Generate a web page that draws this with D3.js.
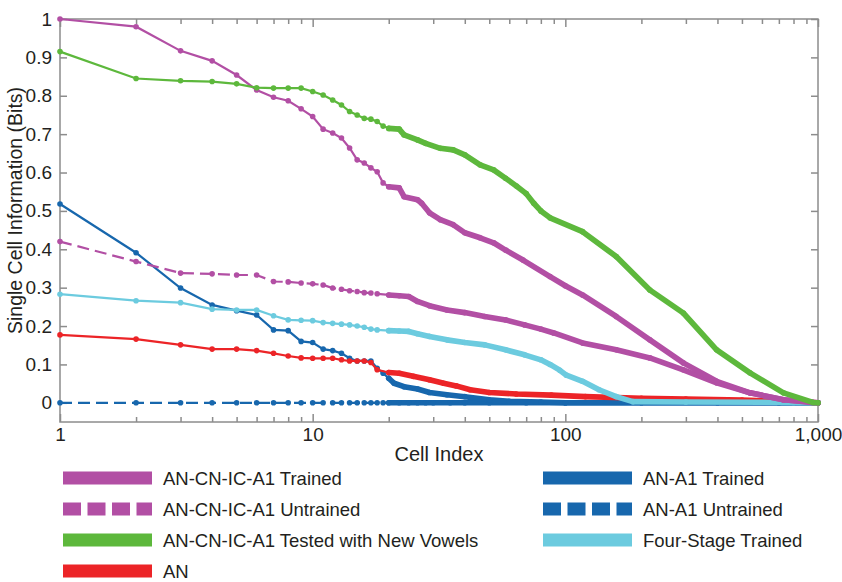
<!DOCTYPE html>
<html>
<head>
<meta charset="utf-8">
<script src="https://cdn.jsdelivr.net/npm/d3@7"></script>
<style>
  body { margin: 0; background: #fff; }
  text { font-family: "Liberation Sans", Arial, sans-serif; fill: #231f20; }
</style>
</head>
<body>
<div id="chart"></div>
<script>
// axis ticks
const xTickValues = [1, 10, 100, 1000];
const xTickLabels = ['1', '10', '100', '1,000'];
const yTickValues = [0, 0.1, 0.2, 0.3, 0.4, 0.5, 0.6, 0.7, 0.8, 0.9, 1];
const yTickLabels = ['0', '0.1', '0.2', '0.3', '0.4', '0.5', '0.6', '0.7', '0.8', '0.9', '1'];

// AN-CN-IC-A1 Trained
const fullTrainedIdx = [1, 2, 3, 4, 5, 6, 7, 8, 9, 10, 11, 12, 13, 14, 15, 16, 17, 18, 19, 20, 22, 23, 26, 27, 29, 32, 36, 40, 46, 52, 58, 68, 87, 100, 117, 159, 216, 293, 397, 538, 730, 955, 1000];
const fullTrainedVal = [1.0, 0.98, 0.917, 0.891, 0.854, 0.815, 0.796, 0.787, 0.766, 0.746, 0.713, 0.703, 0.69, 0.664, 0.633, 0.625, 0.612, 0.602, 0.573, 0.563, 0.56, 0.537, 0.529, 0.52, 0.495, 0.477, 0.464, 0.443, 0.43, 0.417, 0.398, 0.372, 0.329, 0.305, 0.281, 0.225, 0.164, 0.104, 0.056, 0.026, 0.008, 0.001, 0];

// AN-CN-IC-A1 Untrained
const fullUntrainedIdx = [1, 2, 3, 4, 5, 6, 7, 8, 9, 10, 11, 12, 13, 14, 15, 16, 17, 18, 20, 22, 24, 26, 29, 34, 40, 48, 58, 69, 80, 90, 117, 159, 216, 293, 397, 538, 730, 1000];
const fullUntrainedVal = [0.42, 0.368, 0.338, 0.336, 0.333, 0.333, 0.316, 0.315, 0.312, 0.31, 0.307, 0.299, 0.296, 0.292, 0.29, 0.287, 0.286, 0.284, 0.281, 0.279, 0.277, 0.264, 0.253, 0.242, 0.235, 0.225, 0.216, 0.203, 0.192, 0.182, 0.156, 0.138, 0.117, 0.086, 0.052, 0.026, 0.008, 0];

// AN-CN-IC-A1 Tested with New Vowels
const newVowelsIdx = [1, 2, 3, 4, 5, 6, 7, 8, 9, 10, 11, 12, 13, 14, 15, 16, 17, 18, 19, 20, 22, 23, 26, 28, 32, 36, 40, 46, 52, 58, 64, 70, 75, 80, 87, 117, 159, 216, 293, 397, 538, 730, 955, 1000];
const newVowelsVal = [0.915, 0.845, 0.839, 0.837, 0.831, 0.821, 0.82, 0.82, 0.82, 0.811, 0.802, 0.789, 0.776, 0.759, 0.75, 0.741, 0.739, 0.733, 0.721, 0.715, 0.713, 0.698, 0.685, 0.676, 0.663, 0.659, 0.646, 0.62, 0.607, 0.585, 0.565, 0.545, 0.52, 0.5, 0.482, 0.446, 0.381, 0.294, 0.234, 0.138, 0.078, 0.026, 0.001, 0];

// AN
const anIdx = [1, 2, 3, 4, 5, 6, 7, 8, 9, 10, 11, 12, 13, 14, 15, 16, 17, 18, 20, 22, 25, 29, 33, 37, 42, 50, 64, 88, 120, 200, 300, 500, 700, 1000];
const anVal = [0.177, 0.166, 0.151, 0.14, 0.14, 0.136, 0.129, 0.122, 0.117, 0.116, 0.116, 0.116, 0.112, 0.109, 0.109, 0.109, 0.105, 0.086, 0.079, 0.077, 0.069, 0.06, 0.051, 0.044, 0.034, 0.027, 0.023, 0.02, 0.016, 0.012, 0.01, 0.007, 0.004, 0];

// AN-A1 Trained
const a1TrainedIdx = [1, 2, 3, 4, 5, 6, 7, 8, 9, 10, 11, 12, 13, 14, 15, 16, 17, 18, 19, 20, 21, 23, 26, 29, 34, 40, 50, 60, 80, 100, 1000];
const a1TrainedVal = [0.518, 0.391, 0.299, 0.255, 0.24, 0.229, 0.19, 0.188, 0.16, 0.157, 0.14, 0.136, 0.129, 0.116, 0.109, 0.109, 0.109, 0.09, 0.077, 0.064, 0.051, 0.042, 0.036, 0.027, 0.021, 0.016, 0.008, 0.004, 0.002, 0, 0];

// AN-A1 Untrained
const a1UntrainedIdx = [1, 2, 3, 4, 5, 6, 7, 8, 9, 10, 11, 12, 13, 14, 15, 16, 17, 18, 19, 20, 22, 24, 26, 28, 30, 35, 40, 50, 70, 100, 200, 400, 700, 1000];
const a1UntrainedVal = [0, 0, 0, 0, 0, 0, 0, 0, 0, 0, 0, 0, 0, 0, 0, 0, 0, 0, 0, 0, 0, 0, 0, 0, 0, 0, 0, 0, 0, 0, 0, 0, 0, 0];

// Four-Stage Trained
const fourStageIdx = [1, 2, 3, 4, 5, 6, 7, 8, 9, 10, 11, 12, 13, 14, 15, 16, 17, 18, 20, 22, 24, 26, 29, 34, 40, 48, 58, 69, 80, 87, 95, 101, 117, 136, 159, 185, 300, 800, 1000];
const fourStageVal = [0.283, 0.266, 0.261, 0.244, 0.242, 0.242, 0.227, 0.216, 0.215, 0.214, 0.209, 0.207, 0.205, 0.203, 0.2, 0.197, 0.192, 0.19, 0.188, 0.187, 0.186, 0.18, 0.173, 0.164, 0.157, 0.151, 0.138, 0.125, 0.112, 0.1, 0.085, 0.072, 0.056, 0.034, 0.016, 0.003, 0.002, 0.001, 0];

const magenta = '#b24fa4', green = '#5db83c', red = '#ec2427', blue = '#1767ad', cyan = '#6ccbdf';

// drawing order: last one on top
const series = [
  { name: 'AN-A1 Untrained', idx: a1UntrainedIdx, val: a1UntrainedVal, color: blue, dashed: true },
  { name: 'AN-A1 Trained', idx: a1TrainedIdx, val: a1TrainedVal, color: blue, dashed: false },
  { name: 'AN', idx: anIdx, val: anVal, color: red, dashed: false },
  { name: 'Four-Stage Trained', idx: fourStageIdx, val: fourStageVal, color: cyan, dashed: false },
  { name: 'AN-CN-IC-A1 Untrained', idx: fullUntrainedIdx, val: fullUntrainedVal, color: magenta, dashed: true },
  { name: 'AN-CN-IC-A1 Trained', idx: fullTrainedIdx, val: fullTrainedVal, color: magenta, dashed: false },
  { name: 'AN-CN-IC-A1 Tested with New Vowels', idx: newVowelsIdx, val: newVowelsVal, color: green, dashed: false }
];

const legendLeft = ['AN-CN-IC-A1 Trained', 'AN-CN-IC-A1 Untrained', 'AN-CN-IC-A1 Tested with New Vowels', 'AN'];
const legendRight = ['AN-A1 Trained', 'AN-A1 Untrained', 'Four-Stage Trained'];

const W = 842, H = 582;
const plot = { left: 60, right: 818, top: 19, bottom: 422 };
const axisColor = '#8c8c8c';
const markerR = 2.8;

const svg = d3.select('#chart').append('svg')
  .attr('width', W)
  .attr('height', H);

const x = d3.scaleLog().domain([1, 1000]).range([plot.left, plot.right]);
const y = d3.scaleLinear().domain([-0.05, 1]).range([plot.bottom, plot.top]);

// frame
svg.append('rect')
  .attr('x', plot.left).attr('y', plot.top)
  .attr('width', plot.right - plot.left)
  .attr('height', plot.bottom - plot.top)
  .attr('fill', 'none')
  .attr('stroke', axisColor)
  .attr('stroke-width', 1.5);

function styleAxis(g) {
  g.select('.domain').remove();
  g.selectAll('.tick line').attr('stroke', axisColor).attr('stroke-width', 1.5);
  g.selectAll('.tick text').attr('font-size', 19).attr('fill', '#231f20')
    .attr('font-family', '"Liberation Sans", Arial, sans-serif');
}

const minorTicks = x.ticks().filter(v => !xTickValues.includes(v));

// bottom axis: labels + inward ticks
svg.append('g')
  .attr('transform', `translate(0,${plot.bottom})`)
  .call(d3.axisBottom(x).tickValues(xTickValues)
    .tickFormat((d, i) => xTickLabels[i]).tickSize(-8).tickPadding(6))
  .call(styleAxis);
svg.append('g')
  .attr('transform', `translate(0,${plot.bottom})`)
  .call(d3.axisBottom(x).tickValues(minorTicks).tickFormat('').tickSize(-5))
  .call(styleAxis);

// top axis
svg.append('g')
  .attr('transform', `translate(0,${plot.top})`)
  .call(d3.axisTop(x).tickValues(xTickValues).tickFormat('').tickSize(-8))
  .call(styleAxis);
svg.append('g')
  .attr('transform', `translate(0,${plot.top})`)
  .call(d3.axisTop(x).tickValues(minorTicks).tickFormat('').tickSize(-5))
  .call(styleAxis);

// left + right axes
svg.append('g')
  .attr('transform', `translate(${plot.left},0)`)
  .call(d3.axisLeft(y).tickValues(yTickValues)
    .tickFormat((d, i) => yTickLabels[i]).tickSize(-7).tickPadding(8))
  .call(styleAxis);
svg.append('g')
  .attr('transform', `translate(${plot.right},0)`)
  .call(d3.axisRight(y).tickValues(yTickValues).tickFormat('').tickSize(-7))
  .call(styleAxis);

// axis titles
svg.append('text')
  .attr('x', (plot.left + plot.right) / 2)
  .attr('y', 461)
  .attr('text-anchor', 'middle')
  .attr('font-size', 20)
  .text('Cell Index');

svg.append('text')
  .attr('transform', `translate(22,${(plot.top + plot.bottom) / 2 - 10}) rotate(-90)`)
  .attr('text-anchor', 'middle')
  .attr('font-size', 19.5)
  .text('Single Cell Information (Bits)');

// series
const line = d3.line().x(d => x(d[0])).y(d => y(d[1]));
const layer = svg.append('g');

series.forEach(s => {
  const pts = s.idx.map((c, i) => [c, s.val[i]]);
  const g = layer.append('g');

  g.append('path')
    .attr('d', line(pts))
    .attr('fill', 'none')
    .attr('stroke', s.color)
    .attr('stroke-width', 2.2)
    .attr('stroke-dasharray', s.dashed ? '12,6' : null);

  // one marker per cell: where neighbouring cells sit closer than a marker,
  // the markers merge into a solid band
  const firstDense = pts.findIndex(d => x(d[0] + 1) - x(d[0]) < markerR * 2);
  if (firstDense >= 0) {
    g.append('path')
      .attr('d', line(pts.slice(firstDense)))
      .attr('fill', 'none')
      .attr('stroke', s.color)
      .attr('stroke-width', markerR * 2)
      .attr('stroke-linejoin', 'round')
      .attr('stroke-linecap', 'round');
  }

  g.selectAll('circle')
    .data(pts)
    .join('circle')
    .attr('cx', d => x(d[0]))
    .attr('cy', d => y(d[1]))
    .attr('r', markerR)
    .attr('fill', s.color);
});

// legend
const legendRows = [478, 509, 540, 571];
function legendItem(name, x0, yc) {
  const s = series.find(d => d.name === name);
  const sw = 89;
  if (s.dashed) {
    svg.append('line')
      .attr('x1', x0).attr('x2', x0 + sw)
      .attr('y1', yc).attr('y2', yc)
      .attr('stroke', s.color)
      .attr('stroke-width', 13)
      .attr('stroke-dasharray', '18,6.5');
  } else {
    svg.append('rect')
      .attr('x', x0).attr('y', yc - 6.5)
      .attr('width', sw).attr('height', 13)
      .attr('fill', s.color);
  }
  svg.append('text')
    .attr('x', x0 + sw + 11)
    .attr('y', yc)
    .attr('dy', '0.36em')
    .attr('font-size', 18.5)
    .text(name);
}
legendLeft.forEach((n, i) => legendItem(n, 63, legendRows[i]));
legendRight.forEach((n, i) => legendItem(n, 543, legendRows[i]));
</script>
</body>
</html>
